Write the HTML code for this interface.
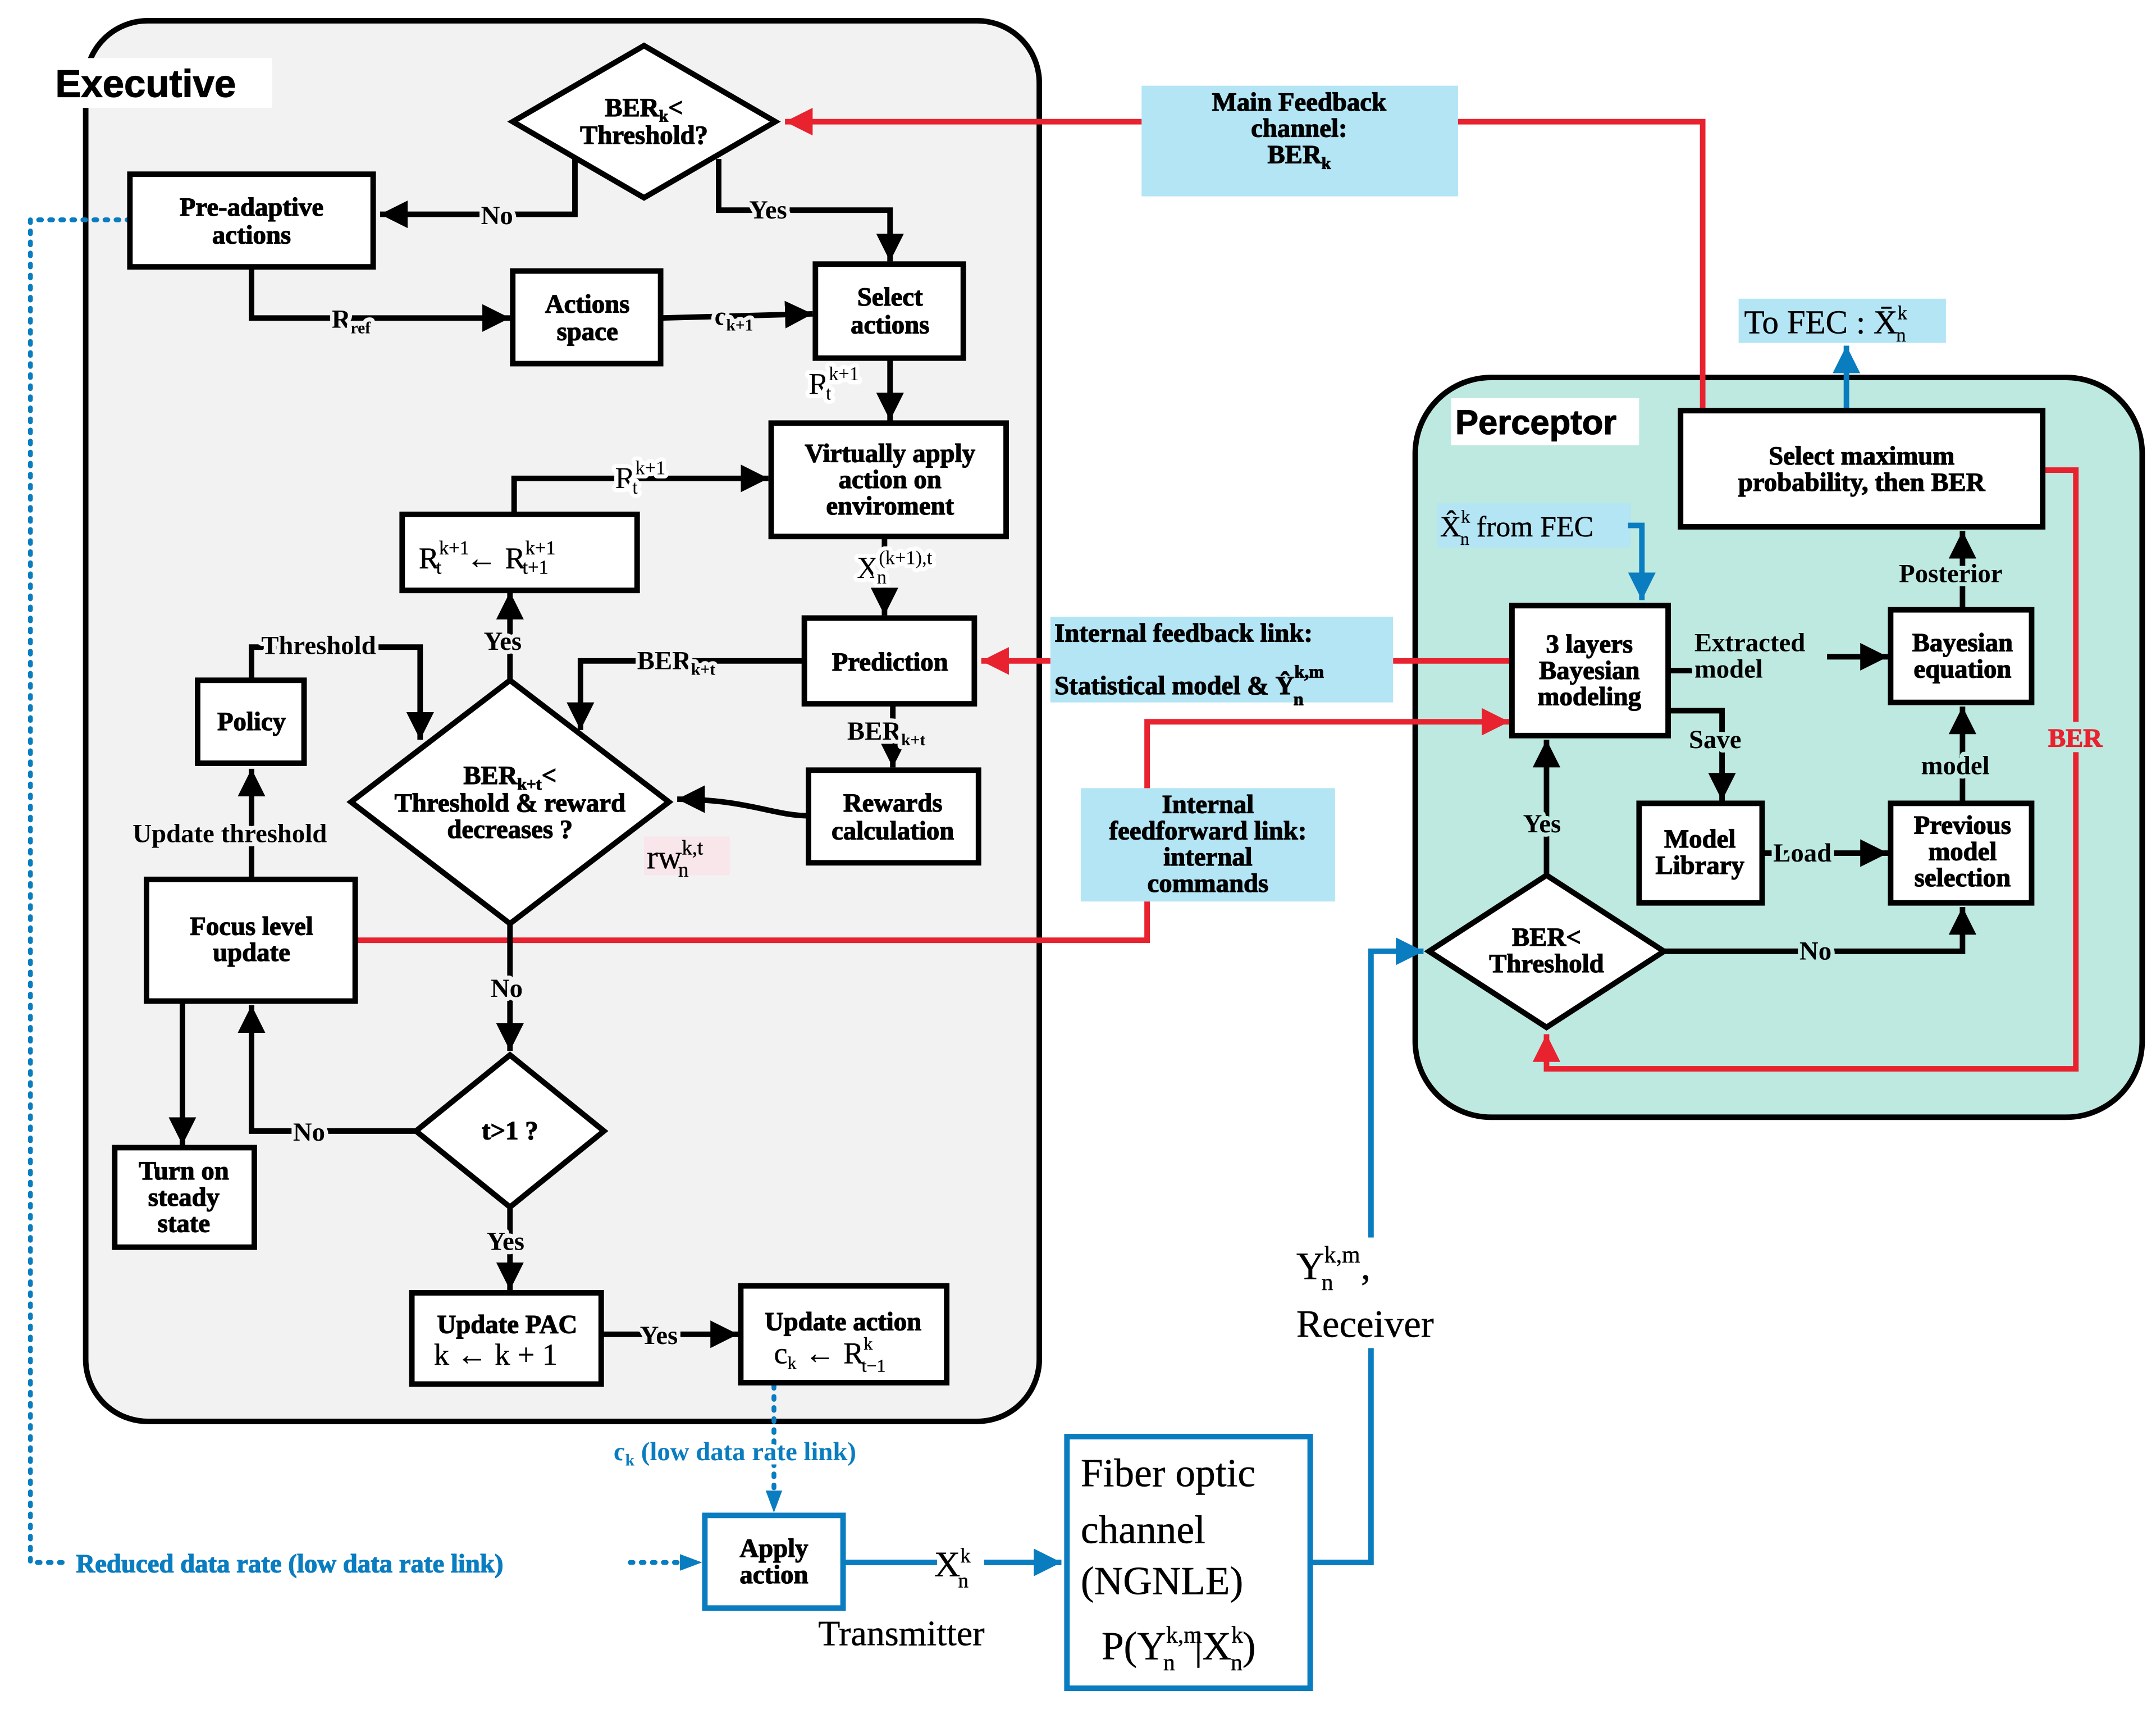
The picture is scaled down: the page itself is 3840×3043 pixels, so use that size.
<!DOCTYPE html>
<html><head><meta charset="utf-8"><style>
html,body{margin:0;padding:0;background:#fff}
svg{display:block}
text{font-family:"Liberation Serif","DejaVu Serif",serif;font-weight:bold;font-size:19px;fill:#000;stroke:#000;stroke-width:0.5}
.b{fill:#0a7cc0;stroke:#0a7cc0}
.r{fill:#e8222f;stroke:#e8222f}
.n{font-weight:normal;stroke-width:0.2}
.hg text{stroke:#f2f2f2;stroke-width:6;paint-order:stroke;stroke-linejoin:round}
.hp text{stroke:#bde9e0;stroke-width:6;paint-order:stroke;stroke-linejoin:round}
.hw text{stroke:#fff;stroke-width:6;paint-order:stroke;stroke-linejoin:round}
</style></head><body>
<svg width="3840" height="3043" viewBox="0 0 1560 1236" preserveAspectRatio="none" xmlns="http://www.w3.org/2000/svg">
<defs>
<marker id="ak" markerWidth="6" markerHeight="6" refX="5" refY="3" orient="auto" markerUnits="strokeWidth"><path d="M0,0.5 L5,3 L0,5.5z" fill="#000"/></marker>
<marker id="ar" markerWidth="6" markerHeight="6" refX="5" refY="3" orient="auto" markerUnits="strokeWidth"><path d="M0,0.5 L5,3 L0,5.5z" fill="#e8222f"/></marker>
<marker id="ab" markerWidth="6" markerHeight="6" refX="5" refY="3" orient="auto" markerUnits="strokeWidth"><path d="M0,0.5 L5,3 L0,5.5z" fill="#0a7cc0"/></marker>
</defs>

<rect x="62" y="15" width="690" height="1013" rx="45" fill="#f2f2f2" stroke="#000" stroke-width="4"/>
<rect x="1024" y="273" width="526" height="535" rx="55" fill="#bde9e0" stroke="#000" stroke-width="4"/>
<rect x="35" y="42" width="162" height="36" fill="#fff"/>
<text x="40" y="70" style="font-size:28px;font-family:'Liberation Sans',sans-serif">Executive</text>
<rect x="1050" y="288" width="136" height="34" fill="#fff"/>
<text x="1053" y="314" style="font-size:25px;font-family:'Liberation Sans',sans-serif">Perceptor</text>

<rect x="826" y="62" width="229" height="80" fill="#b3e5f5"/>
<text x="940" y="80" text-anchor="middle">Main Feedback</text>
<text x="940" y="99" text-anchor="middle">channel:</text>
<text x="940" y="118" text-anchor="middle">BER<tspan font-size="12" dy="4">k</tspan></text>
<rect x="760" y="446" width="248" height="62" fill="#b3e5f5"/>
<text x="763" y="464">Internal feedback link:</text>
<text x="763" y="502">Statistical model &amp; Ŷ<tspan font-size="13" dy="-12">k,m</tspan><tspan font-size="13" dx="-22" dy="20">n</tspan></text>
<rect x="782" y="570" width="184" height="82" fill="#b3e5f5"/>
<text x="874" y="588" text-anchor="middle">Internal</text>
<text x="874" y="607" text-anchor="middle">feedforward link:</text>
<text x="874" y="626" text-anchor="middle">internal</text>
<text x="874" y="645" text-anchor="middle">commands</text>
<rect x="1258" y="216" width="150" height="32" fill="#b3e5f5"/>
<text x="1262" y="241" class="n" style="font-size:24px">To FEC :  X̄<tspan font-size="14" dy="-10">k</tspan><tspan font-size="14" dx="-8" dy="16">n</tspan></text>
<rect x="1040" y="364" width="140" height="32" fill="#b3e5f5"/>
<text x="1042" y="388" class="n" style="font-size:21px">X̂<tspan font-size="13" dy="-10">k</tspan><tspan font-size="13" dx="-7" dy="16">n</tspan><tspan dy="-6"> from FEC</tspan></text>

<g fill="none" stroke="#e8222f" stroke-width="4">
<polyline points="1232,297 1232,88 1055,88"/>
<polyline points="826,88 568,88" marker-end="url(#ar)"/>
<polyline points="1478,340 1502,340 1502,773 1119,773 1119,748" marker-end="url(#ar)"/>
<polyline points="1094,478 1008,478"/>
<polyline points="760,478 710,478" marker-end="url(#ar)"/>
<polyline points="257,680 830,680 830,652"/>
<polyline points="830,570 830,522 1092,522" marker-end="url(#ar)"/>
</g>
<rect x="1480" y="522" width="44" height="22" fill="#bde9e0"/>
<text x="1482" y="540" class="r">BER</text>

<g fill="none" stroke="#0a7cc0" stroke-width="4">
<polyline points="948,1130 992,1130 992,975"/>
<polyline points="992,895 992,688 1030,688" marker-end="url(#ab)"/>
<polyline points="1336,297 1336,250" marker-end="url(#ab)"/>
<polyline points="1178,380 1188,380 1188,434" marker-end="url(#ab)"/>
<polyline points="610,1130 678,1130"/>
<polyline points="712,1130 768,1130" marker-end="url(#ab)"/>
</g>
<g fill="none" stroke="#0a7cc0" stroke-width="3.5" stroke-dasharray="2,6" stroke-linecap="round">
<polyline points="94,159 22,159 22,1130 48,1130"/>
<polyline points="456,1130 490,1130"/>
<polyline points="560,1002 560,1080"/>
</g>
<path d="M492,1124 L508,1130 L492,1136z" fill="#0a7cc0"/>
<path d="M554,1078 L560,1094 L566,1078z" fill="#0a7cc0"/>
<text x="55" y="1137" class="b">Reduced data rate (low data rate link)</text>
<g class="hw"><text x="444" y="1056" class="b" style="stroke:#fff">c<tspan font-size="12" dy="4">k</tspan><tspan dy="-4"> (low data rate link)</tspan></text></g>
<text x="676" y="1140" class="n" style="font-size:26px">X<tspan font-size="15" dy="-10">k</tspan><tspan font-size="15" dx="-9" dy="18">n</tspan></text>
<text x="592" y="1190" class="n" style="font-size:26px">Transmitter</text>
<text x="938" y="925" class="n" style="font-size:28px">Y<tspan font-size="17" dy="-12">k,m</tspan><tspan font-size="17" dx="-28" dy="20">n</tspan><tspan dx="20" dy="-8">,</tspan></text>
<text x="938" y="967" class="n" style="font-size:28px">Receiver</text>

<g fill="none" stroke="#000" stroke-width="4">
<polyline points="416,115 416,155 275,155" marker-end="url(#ak)"/>
<polyline points="520,115 520,152 644,152 644,189" marker-end="url(#ak)"/>
<polyline points="182,193 182,230 369,230" marker-end="url(#ak)"/>
<polyline points="478,230 588,227" marker-end="url(#ak)"/>
<polyline points="644,259 644,304" marker-end="url(#ak)"/>
<polyline points="372,372 372,346 556,346" marker-end="url(#ak)"/>
<polyline points="369,492 369,428" marker-end="url(#ak)"/>
<polyline points="640,388 640,445" marker-end="url(#ak)"/>
<polyline points="582,478 420,478 420,528" marker-end="url(#ak)"/>
<polyline points="646,509 646,555" marker-end="url(#ak)"/>
<path d="M585,590 C560,590 540,578 490,578" marker-end="url(#ak)"/>
<polyline points="182,492 182,468 304,468 304,535" marker-end="url(#ak)"/>
<polyline points="182,636 182,556" marker-end="url(#ak)"/>
<polyline points="369,668 369,760" marker-end="url(#ak)"/>
<polyline points="132,724 132,828" marker-end="url(#ak)"/>
<polyline points="301,818 182,818 182,727" marker-end="url(#ak)"/>
<polyline points="369,873 369,933" marker-end="url(#ak)"/>
<polyline points="435,965 534,965" marker-end="url(#ak)"/>
<polyline points="1207,485 1366,475" marker-end="url(#ak)" style="display:none"/>
<polyline points="1207,485 1225,485"/>
<polyline points="1322,475 1366,475" marker-end="url(#ak)"/>
<polyline points="1207,514 1246,514 1246,579" marker-end="url(#ak)"/>
<polyline points="1420,441 1420,384" marker-end="url(#ak)"/>
<polyline points="1420,581 1420,511" marker-end="url(#ak)"/>
<polyline points="1275,617 1366,617" marker-end="url(#ak)"/>
<polyline points="1119,633 1119,535" marker-end="url(#ak)"/>
<polyline points="1204,688 1420,688 1420,656" marker-end="url(#ak)"/>
</g>
<g class="hg">
<text x="348" y="162">No</text>
<text x="542" y="158">Yes</text>
<text x="240" y="237">R<tspan font-size="12" dy="4">ref</tspan></text>
<text x="517" y="235">c<tspan font-size="12" dy="4">k+1</tspan></text>
<text x="585" y="285" class="n" style="font-size:22px;stroke:#fff">R<tspan font-size="14" dy="-10">k+1</tspan><tspan font-size="14" dx="-24" dy="14">t</tspan></text>
<text x="445" y="353" class="n" style="font-size:22px;stroke:#fff">R<tspan font-size="14" dy="-10">k+1</tspan><tspan font-size="14" dx="-24" dy="14">t</tspan></text>
<text x="620" y="418" class="n" style="font-size:22px;stroke:#fff">X<tspan font-size="14" dy="-10">(k+1),t</tspan><tspan font-size="14" dx="-40" dy="14">n</tspan></text>
<text x="350" y="470">Yes</text>
<text x="461" y="484">BER<tspan font-size="12" dy="4">k+t</tspan></text>
<text x="613" y="535">BER<tspan font-size="12" dy="4">k+t</tspan></text>
<text x="189" y="473">Threshold</text>
<text x="96" y="609">Update threshold</text>
<text x="355" y="721">No</text>
<text x="212" y="825">No</text>
<text x="352" y="904">Yes</text>
<text x="463" y="972">Yes</text>
</g>
<rect x="466" y="605" width="62" height="28" fill="#f8e6ea"/>
<text x="468" y="628" class="n" style="font-size:24px">rw<tspan font-size="15" dy="-10">k,t</tspan><tspan font-size="15" dx="-18" dy="16">n</tspan></text>
<g class="hp">
<text x="1226" y="471">Extracted</text>
<text x="1226" y="490">model</text>
<text x="1222" y="541">Save</text>
<text x="1374" y="421">Posterior</text>
<text x="1390" y="560">model</text>
<text x="1283" y="623">Load</text>
<text x="1102" y="602">Yes</text>
<text x="1302" y="694">No</text>
</g>

<g fill="#fff" stroke="#000" stroke-width="4">
<polygon points="466,33 561,88 466,143 371,88"/>
<rect x="94" y="126" width="176" height="67"/>
<rect x="371" y="196" width="107" height="67"/>
<rect x="590" y="191" width="107" height="68"/>
<rect x="558" y="306" width="170" height="82"/>
<rect x="291" y="372" width="170" height="55"/>
<rect x="582" y="447" width="123" height="62"/>
<rect x="585" y="557" width="123" height="67"/>
<polygon points="369,492 484,580 369,668 254,580"/>
<rect x="143" y="492" width="77" height="60"/>
<rect x="106" y="636" width="151" height="88"/>
<rect x="83" y="830" width="101" height="72"/>
<polygon points="369,763 437,818 369,873 301,818"/>
<rect x="298" y="935" width="137" height="66"/>
<rect x="536" y="930" width="149" height="70"/>
<rect x="1216" y="297" width="262" height="84"/>
<rect x="1094" y="438" width="113" height="94"/>
<rect x="1368" y="441" width="102" height="67"/>
<rect x="1186" y="581" width="89" height="72"/>
<rect x="1368" y="581" width="102" height="72"/>
<polygon points="1119,633 1204,688 1119,743 1034,688"/>
</g>
<g fill="#fff" stroke="#0a7cc0" stroke-width="4">
<rect x="510" y="1096" width="100" height="67"/>
<rect x="772" y="1039" width="176" height="182"/>
</g>

<g text-anchor="middle">
<text x="466" y="84">BER<tspan font-size="12" dy="4">k</tspan><tspan dy="-4">&lt;</tspan></text>
<text x="466" y="104">Threshold?</text>
<text x="182" y="156">Pre-adaptive</text>
<text x="182" y="176">actions</text>
<text x="425" y="226">Actions</text>
<text x="425" y="246">space</text>
<text x="644" y="221">Select</text>
<text x="644" y="241">actions</text>
<text x="644" y="334">Virtually apply</text>
<text x="644" y="353">action on</text>
<text x="644" y="372">enviroment</text>
<text x="644" y="485">Prediction</text>
<text x="646" y="587">Rewards</text>
<text x="646" y="607">calculation</text>
<text x="369" y="567">BER<tspan font-size="12" dy="4">k+t</tspan><tspan dy="-4">&lt;</tspan></text>
<text x="369" y="587">Threshold &amp; reward</text>
<text x="369" y="606">decreases ?</text>
<text x="182" y="528">Policy</text>
<text x="182" y="676">Focus level</text>
<text x="182" y="695">update</text>
<text x="133" y="853">Turn on</text>
<text x="133" y="872">steady</text>
<text x="133" y="891">state</text>
<text x="369" y="824">t&gt;1 ?</text>
<text x="367" y="964">Update PAC</text>
<text x="610" y="962">Update action</text>
<text x="560" y="1126">Apply</text>
<text x="560" y="1145">action</text>
<text x="1347" y="336">Select maximum</text>
<text x="1347" y="355">probability, then BER</text>
<text x="1150" y="472">3 layers</text>
<text x="1150" y="491">Bayesian</text>
<text x="1150" y="510">modeling</text>
<text x="1420" y="471">Bayesian</text>
<text x="1420" y="490">equation</text>
<text x="1230" y="613">Model</text>
<text x="1230" y="632">Library</text>
<text x="1420" y="603">Previous</text>
<text x="1420" y="622">model</text>
<text x="1420" y="641">selection</text>
<text x="1119" y="684">BER&lt;</text>
<text x="1119" y="703">Threshold</text>
</g>
<text x="303" y="411" class="n" style="font-size:22px">R<tspan font-size="14" dy="-10">k+1</tspan><tspan font-size="14" dx="-24" dy="14">t</tspan><tspan dx="18" dy="-4">←</tspan><tspan dx="6">R</tspan><tspan font-size="14" dy="-10">k+1</tspan><tspan font-size="14" dx="-24" dy="14">t+1</tspan></text>
<text x="314" y="987" class="n" style="font-size:22px">k ← k + 1</text>
<text x="560" y="986" class="n" style="font-size:22px">c<tspan font-size="13" dy="4">k</tspan><tspan dx="6" dy="-4">←</tspan><tspan dx="6">R</tspan><tspan font-size="13" dy="-10">k</tspan><tspan font-size="13" dx="-8" dy="16">t−1</tspan></text>
<text x="782" y="1075" class="n" style="font-size:29px">Fiber optic</text>
<text x="782" y="1116" class="n" style="font-size:29px">channel</text>
<text x="782" y="1153" class="n" style="font-size:29px">(NGNLE)</text>
<text x="797" y="1200" class="n" style="font-size:29px">P(Y<tspan font-size="17" dy="-12">k,m</tspan><tspan font-size="17" dx="-28" dy="20">n</tspan><tspan dx="14" dy="-8">|X</tspan><tspan font-size="17" dy="-12">k</tspan><tspan font-size="17" dx="-9" dy="20">n</tspan><tspan dy="-8">)</tspan></text>
</svg>
</body></html>
